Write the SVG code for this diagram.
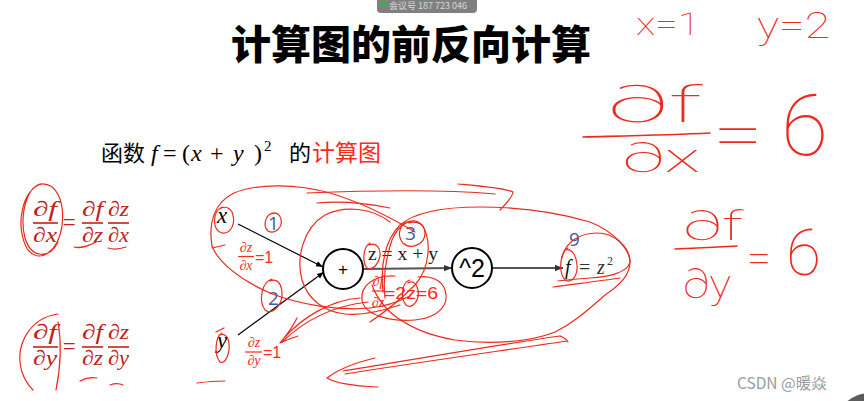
<svg xmlns="http://www.w3.org/2000/svg" width="864" height="401" viewBox="0 0 864 401">
<defs>
<style>
.cjk{font-family:"Noto Sans CJK SC","Noto Sans",sans-serif}
.math{font-family:"Liberation Serif","DejaVu Serif",serif;font-style:italic}
.rom{font-family:"Liberation Serif","DejaVu Serif",serif}
.sans{font-family:"Liberation Sans","Noto Sans",sans-serif}
.dred{fill:#c0221a}
.red{fill:#ff2a1a}
.blue{fill:#3d5c9c;font-family:"Open Sans","Liberation Sans",sans-serif;font-size:19px}
.hand{fill:#ee2a1f;font-family:Roboto,"Open Sans",sans-serif;font-weight:100}
.fl{stroke:#c0221a;stroke-width:1.6}
.flr{stroke:#ff2a1a;stroke-width:1.2}
.node{fill:#fff;stroke:#000;stroke-width:2}
.sc{fill:none;stroke:#ec2a1e;stroke-width:1.2;stroke-linecap:round;stroke-linejoin:round}
.hl{fill:none;stroke:#ee2a1f;stroke-width:1.6;stroke-linecap:round}
</style>
<marker id="ah" viewBox="0 0 10 10" refX="10" refY="5" markerWidth="7" markerHeight="7" orient="auto" markerUnits="userSpaceOnUse"><path d="M0,1 L10,5 L0,9 z" fill="#000"/></marker>
<marker id="ahg" viewBox="0 0 10 10" refX="10" refY="5" markerWidth="8" markerHeight="8" orient="auto" markerUnits="userSpaceOnUse"><path d="M0,1 L10,5 L0,9 z" fill="#333"/></marker>
</defs>
<rect width="864" height="401" fill="#fff"/>

<!-- meeting badge -->
<g id="badge">
<rect x="377" y="-6" width="100" height="19" rx="4" fill="#808080"/>
<circle cx="383.5" cy="4" r="2.5" fill="#22c040"/>
<text x="389" y="8.5" class="cjk" font-size="9" fill="#d8d8d8">会议号 187 723 046</text>
</g>

<!-- title -->
<text x="411" y="59" text-anchor="middle" class="cjk" font-size="40" font-weight="900" fill="#000">计算图的前反向计算</text>

<!-- subtitle -->
<text y="161" font-size="24" fill="#000"><tspan class="cjk" x="101" font-size="22">函数</tspan><tspan class="math" x="151">f</tspan><tspan class="rom" x="163">=</tspan><tspan class="rom" x="182">(</tspan><tspan class="math" x="191">x</tspan><tspan class="rom" x="210">+</tspan><tspan class="math" x="233">y</tspan><tspan class="rom" x="254">)</tspan><tspan class="rom" x="264" dy="-10" font-size="15">2</tspan><tspan class="cjk" x="289" dy="10" font-size="22">的</tspan><tspan class="cjk red" x="312" font-size="23">计算图</tspan></text>

<!-- left chain-rule formulas -->
<g id="eq1" class="math dred" font-size="21" text-anchor="middle">
<text x="45" y="216" textLength="24" lengthAdjust="spacingAndGlyphs">∂f</text><line class="fl" x1="33" y1="223" x2="58" y2="223"/><text x="45" y="242" textLength="24" lengthAdjust="spacingAndGlyphs">∂x</text>
<text class="rom" x="69" y="230" font-size="23">=</text>
<text x="92.5" y="216" textLength="21" lengthAdjust="spacingAndGlyphs">∂f</text><line class="fl" x1="82" y1="223" x2="103" y2="223"/><text x="92.5" y="242" textLength="21" lengthAdjust="spacingAndGlyphs">∂z</text>
<text x="118.5" y="216" textLength="21" lengthAdjust="spacingAndGlyphs">∂z</text><line class="fl" x1="108" y1="223" x2="129" y2="223"/><text x="118.5" y="242" textLength="21" lengthAdjust="spacingAndGlyphs">∂x</text>
</g>
<g id="eq2" class="math dred" font-size="21" text-anchor="middle">
<text x="45" y="339" textLength="24" lengthAdjust="spacingAndGlyphs">∂f</text><line class="fl" x1="33" y1="347" x2="58" y2="347"/><text x="45" y="365" textLength="24" lengthAdjust="spacingAndGlyphs">∂y</text>
<text class="rom" x="69" y="354" font-size="23">=</text>
<text x="92.5" y="339" textLength="21" lengthAdjust="spacingAndGlyphs">∂f</text><line class="fl" x1="82" y1="347" x2="103" y2="347"/><text x="92.5" y="365" textLength="21" lengthAdjust="spacingAndGlyphs">∂z</text>
<text x="118.5" y="339" textLength="21" lengthAdjust="spacingAndGlyphs">∂z</text><line class="fl" x1="108" y1="347" x2="129" y2="347"/><text x="118.5" y="365" textLength="21" lengthAdjust="spacingAndGlyphs">∂y</text>
</g>

<!-- connectors -->
<g id="connectors">
<line x1="238" y1="224" x2="323" y2="267" stroke="#000" stroke-width="1.2" marker-end="url(#ah)"/>
<line x1="238" y1="335" x2="324" y2="272" stroke="#000" stroke-width="1.2" marker-end="url(#ah)"/>
<line x1="363" y1="269" x2="452" y2="268" stroke="#555" stroke-width="2" marker-end="url(#ahg)"/>
<line x1="492" y1="268" x2="563" y2="268" stroke="#555" stroke-width="2" marker-end="url(#ahg)"/>
</g>

<!-- nodes -->
<g id="node-x"><text class="math" x="217" y="223" font-size="23" fill="#000">x</text></g>
<g id="node-y"><text class="math" x="217" y="348" font-size="23" fill="#000">y</text></g>
<g id="node-plus"><circle class="node" cx="343" cy="269" r="20"/><text class="sans" x="343" y="275" font-size="17" text-anchor="middle">+</text></g>
<g id="node-sq"><circle class="node" cx="472" cy="268" r="20"/><text class="sans" x="472" y="277" font-size="25" text-anchor="middle">^2</text></g>
<g id="node-f"><text y="274" font-size="20" fill="#333"><tspan class="math" x="565" fill="#111">f</tspan><tspan class="rom" x="579">=</tspan><tspan class="math" x="597">z</tspan><tspan class="rom" x="607" dy="-9" font-size="12">2</tspan></text></g>
<text class="rom" x="368" y="260" font-size="18" fill="#222" textLength="70" lengthAdjust="spacingAndGlyphs">z = x + y</text>

<!-- blue step numbers -->
<text class="blue" x="268" y="230">1</text>
<text class="blue" x="268" y="305">2</text>
<text class="blue" x="405" y="240">3</text>
<text class="blue" x="569" y="246">9</text>

<!-- red local gradients -->
<g id="dzdx" class="red">
<text class="math" x="246" y="252" font-size="14" text-anchor="middle">∂z</text><line class="flr" x1="238" y1="256.5" x2="254" y2="256.5"/><text class="math" x="246" y="270" font-size="14" text-anchor="middle">∂x</text>
<text class="sans" x="255" y="263" font-size="16">=1</text>
</g>
<g id="dzdy" class="red">
<text class="math" x="254" y="347" font-size="14" text-anchor="middle">∂z</text><line class="flr" x1="245" y1="352" x2="262" y2="352"/><text class="math" x="254" y="365" font-size="14" text-anchor="middle">∂y</text>
<text class="sans" x="263" y="358" font-size="16">=1</text>
</g>
<g id="dfdz" class="red">
<text class="math" x="378" y="286" font-size="14" text-anchor="middle">∂f</text><line class="flr" x1="372" y1="291" x2="384" y2="291"/><text class="math" x="378" y="307" font-size="14" text-anchor="middle">∂z</text>
<text class="sans" x="384" y="299" font-size="16" textLength="54" lengthAdjust="spacingAndGlyphs">=2z=6</text>
</g>

<!-- handwritten notes on the right -->
<g id="notes">
<text class="hand" x="636" y="35" font-size="32" textLength="64" lengthAdjust="spacingAndGlyphs">x=1</text>
<text class="hand" x="757" y="38" font-size="36" textLength="73" lengthAdjust="spacingAndGlyphs">y=2</text>
<text class="hand" x="607" y="122" font-size="50" textLength="95" lengthAdjust="spacingAndGlyphs">∂f</text>
<path class="hl" d="M583 137 C620 136,670 135,710 133"/>
<text class="hand" x="622" y="172" font-size="40" textLength="78" lengthAdjust="spacingAndGlyphs">∂x</text>
<text class="hand" x="713" y="157" font-size="64" textLength="50" lengthAdjust="spacingAndGlyphs">=</text>
<text class="hand" x="781" y="155" font-size="86">6</text>
<text class="hand" x="683" y="240" font-size="40" textLength="60" lengthAdjust="spacingAndGlyphs">∂f</text>
<path class="hl" d="M675 249 C700 248,720 247,737 246"/>
<text class="hand" x="683" y="298" font-size="40" textLength="48" lengthAdjust="spacingAndGlyphs">∂y</text>
<text class="hand" x="747" y="272" font-size="40" textLength="24" lengthAdjust="spacingAndGlyphs">=</text>
<text class="hand" x="786" y="275" font-size="64">6</text>
</g>

<!-- red pen scribbles -->
<g id="scribbles" class="sc">
<path d="M42 184 C22 188,14 228,28 250 C40 264,58 252,62 226 C65 200,56 182,40 184 C27 188,19 214,25 238 C31 258,49 260,58 242"/>
<path d="M74 247 C82 249,90 245,96 242"/>
<path d="M108 248 C114 250,120 249,126 247"/>
<path d="M58 314 C30 318,14 345,22 372 C25 381,29 386,33 390"/>
<path d="M58 322 C62 345,60 370,56 390"/>
<path d="M80 381 C86 378,92 377,97 378"/>
<path d="M110 385 C115 383,119 383,123 385"/>
<path d="M222 207 C212 212,212 230,222 233 C232 234,236 222,232 212 C229 207,224 206,219 209"/>
<path d="M276 213 C266 212,262 225,268 231 C275 235,283 227,281 219 C280 214,276 212,271 214"/>
<path d="M272 279 C262 282,258 300,265 310 C272 316,283 305,282 292 C281 283,277 278,270 281"/>
<path d="M222 333 C215 337,214 355,220 362 C226 365,230 352,229 343 C228 336,224 333,219 335"/>
<path d="M216 332 L224 328"/>
<path d="M212 246 C208 222,215 202,234 193 C258 183,298 184,330 193 C360 202,385 214,415 232"/>
<path d="M212 246 C218 262,240 280,270 293 C300 305,340 311,370 308 C390 306,402 300,410 296"/>
<path d="M307 193 C380 190,450 190,495 194"/>
<path d="M317 203 C340 201,365 203,390 208"/>
<path d="M458 184 C480 186,505 188,513 192 C512 198,506 204,500 210"/>
<path d="M390 222 C372 208,345 205,325 215 C303 228,296 258,302 280 C308 300,325 312,345 314 C365 316,385 310,400 305"/>
<path d="M383 292 C380 265,385 240,400 225 C415 212,445 207,480 207 C520 207,560 213,590 222 C615 232,630 250,630 262 C630 275,620 285,605 295 C590 308,575 322,555 332 C530 342,490 345,455 340 C425 335,405 325,390 312 C380 302,375 294,372 285"/>
<path d="M370 322 C385 312,400 300,415 285 C430 268,432 240,422 225 C412 215,398 225,392 240 C385 260,383 280,385 298"/>
<path d="M412 222 C400 220,396 235,403 243 C410 250,425 245,425 233 C425 225,418 220,409 223"/>
<path d="M395 276 C375 275,360 285,362 300 C364 315,390 322,415 320 C438 318,450 305,445 290 C442 280,430 275,418 277"/>
<path d="M410 280 C402 282,400 298,406 305 C412 310,420 300,418 290 C417 284,413 280,408 283"/>
<path d="M370 243 C363 247,362 262,367 268 C372 271,378 265,380 256 C381 248,376 242,369 245"/>
<path d="M368 302 C340 305,310 315,282 342"/>
<path d="M360 298 C330 300,302 318,285 337"/>
<path d="M297 318 C292 328,286 336,280 343 C286 340,292 338,298 336"/>
<path d="M567 341 C500 351,420 362,345 374"/>
<path d="M560 336 C490 346,410 360,343 371"/>
<path d="M560 336 C565 338,567 340,568 342"/>
<path d="M375 358 C358 362,340 368,327 378 C335 383,355 386,378 387"/>
<path d="M553 287 C575 284,600 281,620 278"/>
<path d="M568 248 C560 252,558 272,565 280 C572 284,578 275,577 265 C576 255,572 248,565 250"/>
<path d="M562 258 C565 242,580 233,597 233 C615 233,630 248,630 262 C628 272,610 277,590 278 C575 279,565 280,558 281"/>
<path d="M212 248 L225 245"/>
<path d="M197 383 C205 382,215 381,225 381"/>
</g>

<!-- watermark -->
<text x="737" y="389" class="cjk" font-size="15.5" fill="#9c9c9c">CSDN @暖焱</text>
<ellipse cx="870" cy="425" rx="34" ry="32" fill="#5c5c5c"/>
</svg>
